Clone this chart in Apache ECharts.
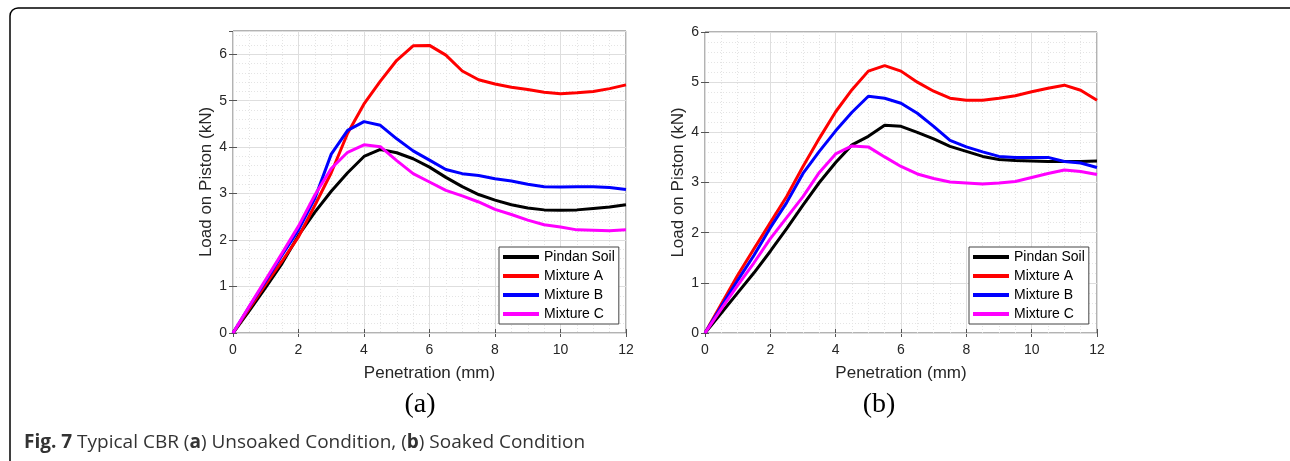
<!DOCTYPE html>
<html>
<head>
<meta charset="utf-8">
<script src="https://cdn.jsdelivr.net/npm/echarts@6/dist/echarts.min.js"></script>
<style>html,body{margin:0;padding:0;background:#fff;}#c{width:1290px;height:461px;}</style>
</head>
<body>
<div id="c"></div>
<script>
// Penetration (mm)
const penetration = [0,0.5,1,1.5,2,2.5,3,3.5,4,4.5,5,5.5,6,6.5,7,7.5,8,8.5,9,9.5,10,10.5,11,11.5,12];
const seriesNames = ['Pindan Soil','Mixture A','Mixture B','Mixture C'];
const seriesColors = ['#000000','#ff0000','#0000ff','#ff00ff'];
const xTicks = [0,2,4,6,8,10,12];
// (a) Unsoaked condition, load on piston (kN)
const unsoakedPindan = [0,0.48,0.98,1.5,2.1,2.6,3.05,3.45,3.8,3.95,3.88,3.75,3.57,3.35,3.15,2.98,2.86,2.76,2.69,2.65,2.64,2.65,2.68,2.71,2.76];
const unsoakedA = [0,0.53,1.05,1.55,2.07,2.75,3.45,4.3,4.93,5.42,5.87,6.18,6.19,5.98,5.64,5.45,5.36,5.29,5.24,5.18,5.15,5.17,5.2,5.26,5.34];
const unsoakedB = [0,0.57,1.12,1.68,2.22,2.9,3.85,4.36,4.55,4.47,4.18,3.92,3.72,3.52,3.43,3.39,3.32,3.27,3.2,3.15,3.14,3.15,3.15,3.13,3.09];
const unsoakedC = [0,0.58,1.15,1.72,2.3,2.97,3.54,3.89,4.05,4.01,3.71,3.43,3.25,3.07,2.95,2.82,2.66,2.55,2.43,2.33,2.28,2.22,2.21,2.2,2.22];
// (b) Soaked condition, load on piston (kN)
const soakedPindan = [0,0.4,0.8,1.2,1.63,2.08,2.55,3.0,3.4,3.75,3.92,4.14,4.12,4.0,3.87,3.72,3.62,3.52,3.46,3.44,3.43,3.42,3.42,3.42,3.43];
const soakedA = [0,0.58,1.15,1.68,2.2,2.72,3.32,3.88,4.41,4.85,5.22,5.33,5.22,5.0,4.82,4.68,4.64,4.64,4.68,4.73,4.81,4.88,4.94,4.84,4.64];
const soakedB = [0,0.53,1.05,1.55,2.1,2.6,3.18,3.62,4.03,4.4,4.72,4.68,4.58,4.38,4.12,3.84,3.71,3.61,3.52,3.5,3.5,3.5,3.42,3.39,3.3];
const soakedC = [0,0.48,0.95,1.4,1.88,2.3,2.72,3.2,3.57,3.73,3.71,3.51,3.32,3.17,3.08,3.01,2.99,2.97,2.99,3.02,3.1,3.18,3.25,3.22,3.16];

const unsoaked = [unsoakedPindan, unsoakedA, unsoakedB, unsoakedC];
const soaked = [soakedPindan, soakedA, soakedB, soakedC];

const FONT = 'Liberation Sans, Arial, sans-serif';
const majorLine = {show:true, lineStyle:{color:'#dedede', width:1, type:'solid'}};
const minorLine = {show:true, lineStyle:{color:'#e4e4e4', width:1, type:[1,2]}};
const labelStyle = {color:'#262626', fontSize:14, fontFamily:FONT};
const titleStyle = {color:'#262626', fontSize:17, fontFamily:FONT};
const tickStyle = {show:true, inside:true, length:4, lineStyle:{color:'#555'}};

function mainX(gridIndex){
  return {type:'value', gridIndex, min:0, max:12, interval:2, position:'bottom',
    name:'Penetration (mm)', nameLocation:'middle', nameGap:32,
    nameTextStyle:titleStyle,
    axisLine:{show:false}, axisTick:tickStyle,
    axisLabel:Object.assign({margin:10, formatter:v=>xTicks.includes(v)?String(v):''}, labelStyle),
    splitLine:majorLine, minorTick:{show:false, splitNumber:4}, minorSplitLine:minorLine, z:1};
}
function topX(gridIndex){
  return {type:'value', gridIndex, min:0, max:12, interval:2, position:'top',
    axisLine:{show:false}, axisTick:tickStyle, axisLabel:{show:false}, splitLine:{show:false}};
}
function rightY(gridIndex, max){
  return {type:'value', gridIndex, min:0, max, interval:1, position:'right',
    axisLine:{show:false}, axisTick:tickStyle, axisLabel:{show:false}, splitLine:{show:false}};
}

const option = {
  animation:false,
  backgroundColor:'#ffffff',
  grid:[
    {left:233, top:31, width:393, height:302, show:true, borderColor:'#666', borderWidth:1, backgroundColor:'transparent'},
    {left:705, top:32, width:392, height:301, show:true, borderColor:'#666', borderWidth:1, backgroundColor:'transparent'}
  ],
  xAxis:[ mainX(0), topX(0), mainX(1), topX(1) ],
  yAxis:[
    {type:'value', gridIndex:0, min:0, max:6.5, interval:1, position:'left',
      name:'Load on Piston (kN)', nameLocation:'middle', nameGap:18,
      nameTextStyle:titleStyle,
      axisLine:{show:false}, axisTick:tickStyle,
      axisLabel:Object.assign({margin:6, showMaxLabel:false, formatter:v=>Number.isInteger(v)?String(v):''}, labelStyle),
      splitLine:majorLine, z:1},
    rightY(0, 6.5),
    {type:'value', gridIndex:0, min:0, max:6.5, interval:0.2, position:'left',
      axisLine:{show:false}, axisTick:{show:false}, axisLabel:{show:false}, splitLine:minorLine, z:0},
    {type:'value', gridIndex:1, min:0, max:6, interval:1, position:'left',
      name:'Load on Piston (kN)', nameLocation:'middle', nameGap:18,
      nameTextStyle:titleStyle,
      axisLine:{show:false}, axisTick:tickStyle,
      axisLabel:Object.assign({margin:6}, labelStyle),
      splitLine:majorLine, minorTick:{show:false, splitNumber:5}, minorSplitLine:minorLine, z:1},
    rightY(1, 6)
  ],
  legend:[0,1].map(i=>({
    data:seriesNames, orient:'vertical', left: i===0 ? 499 : 969, top:247,
    backgroundColor:'#ffffff', borderColor:'#444', borderWidth:1, borderRadius:0,
    padding:[3,4,3,4], itemWidth:36, itemHeight:4, itemGap:5, icon:'rect',
    selectedMode:false,
    textStyle:{color:'#000', fontSize:14, fontFamily:FONT, lineHeight:14}
  })),
  series:[
    ...seriesNames.map((n,k)=>({
      name:n, type:'line', xAxisIndex:0, yAxisIndex:0, showSymbol:false, symbol:'none',
      lineStyle:{color:seriesColors[k], width:3}, itemStyle:{color:seriesColors[k]},
      data:penetration.map((x,j)=>[x, unsoaked[k][j]]), z:2})),
    ...seriesNames.map((n,k)=>({
      name:n, type:'line', xAxisIndex:2, yAxisIndex:3, showSymbol:false, symbol:'none',
      lineStyle:{color:seriesColors[k], width:3}, itemStyle:{color:seriesColors[k]},
      data:penetration.map((x,j)=>[x, soaked[k][j]]), z:2}))
  ],
  graphic:[
    {type:'rect', shape:{x:10, y:8, width:1320, height:500, r:8}, style:{fill:'none', stroke:'#000', lineWidth:1.5}, silent:true, z:10},
    {type:'text', x:420, y:405, style:{text:'(a)', fill:'#000', font:'28px "Liberation Serif", "Times New Roman", serif', align:'center', verticalAlign:'middle'}},
    {type:'text', x:879, y:405, style:{text:'(b)', fill:'#000', font:'28px "Liberation Serif", "Times New Roman", serif', align:'center', verticalAlign:'middle'}},
    {type:'text', x:24, y:443, style:{
      text:'{b|Fig. 7} Typical CBR ({b|a}) Unsoaked Condition, ({b|b}) Soaked Condition',
      fill:'#333', font:'19px "Open Sans", sans-serif', verticalAlign:'middle', align:'left',
      rich:{b:{fontWeight:'bold', fontSize:19, fontFamily:'Open Sans', fill:'#333'}}
    }}
  ]
};
const chart = echarts.init(document.getElementById('c'));
chart.setOption(option);
</script>
</body>
</html>
